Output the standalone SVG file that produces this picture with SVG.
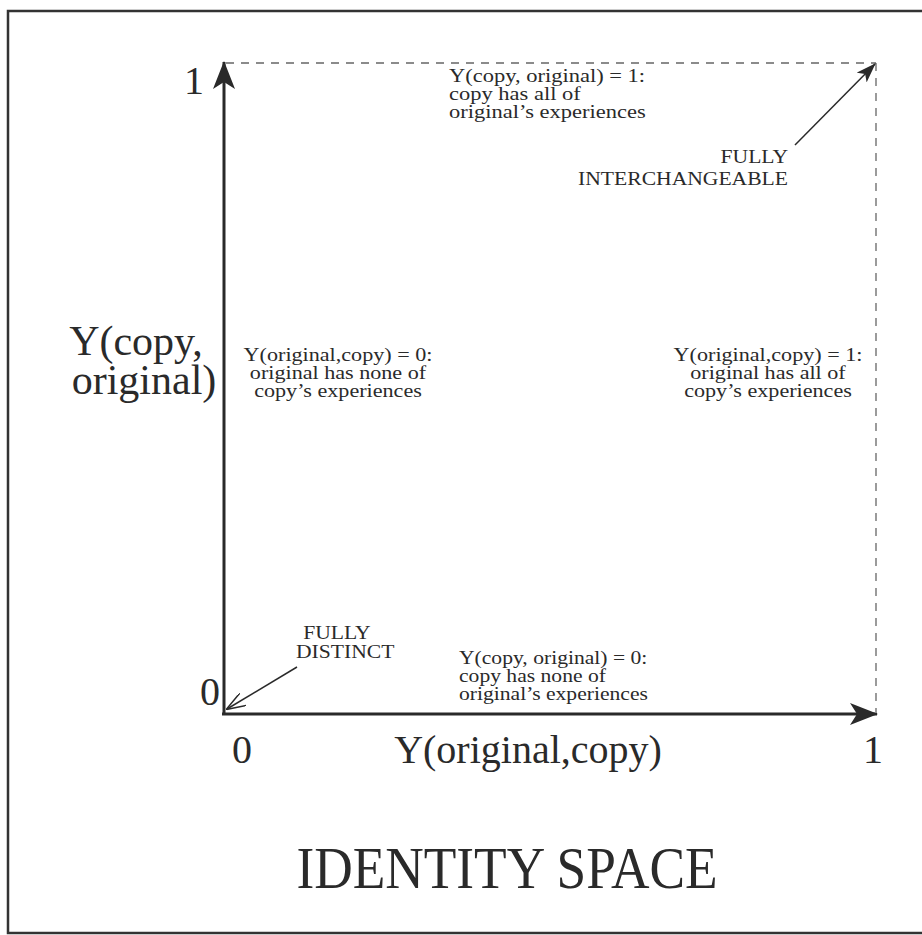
<svg xmlns="http://www.w3.org/2000/svg" width="922" height="935" viewBox="0 0 922 935">
<style>
text{font-family:"Liberation Serif","Times New Roman",serif;fill:#2a2a2a}
.s{font-size:18px}
.m{font-size:40px}
.axis{stroke:#2a2a2a;stroke-width:3;fill:none}
.dash{stroke:#666;stroke-width:1.3;stroke-dasharray:8,7;fill:none}
.thin{stroke:#2a2a2a;stroke-width:1.5;fill:none}
</style>
<defs>
<marker id="ah" viewBox="0 0 20 14" refX="19" refY="7" markerWidth="20" markerHeight="14" markerUnits="userSpaceOnUse" orient="auto">
<path d="M0,0 L20,7 L0,14 L5,7 Z" fill="#2a2a2a"/>
</marker>
<marker id="ab" viewBox="0 0 28 22" refX="27" refY="11" markerWidth="28" markerHeight="22" markerUnits="userSpaceOnUse" orient="auto">
<path d="M0,0 L28,11 L0,22 L7,11 Z" fill="#2a2a2a"/>
</marker>
<marker id="ao" viewBox="0 0 20 14" refX="19" refY="7" markerWidth="20" markerHeight="14" markerUnits="userSpaceOnUse" orient="auto">
<path d="M0,0 L20,7 L0,14" fill="none" stroke="#2a2a2a" stroke-width="1.5"/>
</marker>
</defs>
<rect id="frame" x="8" y="11" width="930" height="922" fill="none" stroke="#333" stroke-width="2.5"/>
<g id="connectors">
<line class="dash" x1="226" y1="63" x2="876" y2="63"/>
<line class="dash" x1="876" y1="63" x2="876" y2="712"/>
<line class="axis" x1="224" y1="715" x2="224" y2="62" marker-end="url(#ab)"/>
<line class="axis" x1="222" y1="714" x2="877" y2="714" marker-end="url(#ab)"/>
<line class="thin" x1="795" y1="145" x2="875" y2="64" marker-end="url(#ah)"/>
<line class="thin" x1="297" y1="667" x2="227" y2="709" marker-end="url(#ao)"/>
</g>
<g id="tick-labels">
<text class="m" x="194" y="94" text-anchor="middle">1</text>
<text class="m" x="210" y="705" text-anchor="middle">0</text>
<text class="m" x="242" y="763" text-anchor="middle">0</text>
<text class="m" x="873" y="763" text-anchor="middle">1</text>
</g>
<g id="x-label"><text class="m" x="528" y="763" text-anchor="middle" font-size="41">Y(original,copy)</text></g>
<g id="y-label">
<text x="136" y="355" text-anchor="middle" font-size="42">Y(copy,</text>
<text x="144" y="394" text-anchor="middle" font-size="42">original)</text>
</g>
<g id="top-note" transform="translate(449,0) scale(1.25,1)">
<text class="s" x="0" y="82">Y(copy, original) = 1:</text>
<text class="s" x="0" y="100">copy has all of</text>
<text class="s" x="0" y="118">original’s experiences</text>
</g>
<g id="bottom-note" transform="translate(459,0) scale(1.2,1)">
<text class="s" x="0" y="664">Y(copy, original) = 0:</text>
<text class="s" x="0" y="682">copy has none of</text>
<text class="s" x="0" y="700">original’s experiences</text>
</g>
<g id="left-note" text-anchor="middle" transform="translate(338,0) scale(1.23,1)">
<text class="s" x="0" y="361">Y(original,copy) = 0:</text>
<text class="s" x="0" y="379">original has none of</text>
<text class="s" x="0" y="397">copy’s experiences</text>
</g>
<g id="right-note" text-anchor="middle" transform="translate(768,0) scale(1.23,1)">
<text class="s" x="0" y="361">Y(original,copy) = 1:</text>
<text class="s" x="0" y="379">original has all of</text>
<text class="s" x="0" y="397">copy’s experiences</text>
</g>
<g id="fully-interchangeable" text-anchor="end" transform="translate(788,0) scale(1.2,1)">
<text class="s" x="0" y="163">FULLY</text>
<text class="s" x="0" y="185">INTERCHANGEABLE</text>
</g>
<g id="fully-distinct" transform="translate(296,0) scale(1.2,1)">
<text class="s" x="6" y="639">FULLY</text>
<text class="s" x="0" y="658">DISTINCT</text>
</g>
<g id="title"><text x="507" y="888" text-anchor="middle" font-size="60" textLength="421" lengthAdjust="spacingAndGlyphs">IDENTITY SPACE</text></g>
</svg>
